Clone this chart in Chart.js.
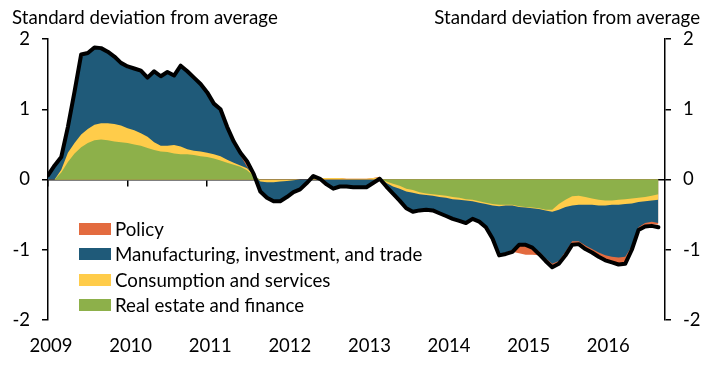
<!DOCTYPE html>
<html>
<head>
<meta charset="utf-8">
<script src="https://cdn.jsdelivr.net/npm/chart.js@4.4.1/dist/chart.umd.min.js"></script>
<style>
  body { margin: 0; background: #fff; }
  #wrap { position: relative; width: 713px; height: 385px; font-family: Lato, "Open Sans", sans-serif; color: #000; }
  #c { position: absolute; left: 0; top: 0; }
  .ttl { position: absolute; top: 8px; font-size: 18.7px; line-height: 19px; white-space: nowrap; }
  #legend { position: absolute; left: 79px; top: 216px; font-size: 18.7px; }
  .item { display: flex; align-items: center; height: 25.5px; white-space: nowrap; }
  .box { width: 32px; height: 12px; margin-right: 4px; }
</style>
</head>
<body>
<div id="wrap">
  <canvas id="c" width="713" height="385"></canvas>
  <div class="ttl" style="left:12px">Standard deviation from average</div>
  <div class="ttl" style="right:13px">Standard deviation from average</div>
  <div id="legend"></div>
</div>
<script>
// monthly, Jan 2009 .. Sep 2016
const startYear = 2009;
const yearTicks = [2009, 2010, 2011, 2012, 2013, 2014, 2015, 2016];

const realEstate = [
  0, 0, 0.10, 0.25, 0.37, 0.46, 0.52, 0.56, 0.57, 0.56, 0.54, 0.53,
  0.52, 0.50, 0.48, 0.45, 0.42, 0.40, 0.39, 0.37, 0.36, 0.36, 0.35, 0.33,
  0.32, 0.30, 0.27, 0.24, 0.21, 0.18, 0.13, 0.05, 0, 0, 0, 0,
  0, 0, 0, 0, 0, 0, 0, 0, 0, 0, 0, 0,
  0, 0, 0, -0.03, -0.06, -0.09, -0.13, -0.15, -0.18, -0.20, -0.21, -0.22,
  -0.23, -0.25, -0.26, -0.28, -0.29, -0.31, -0.33, -0.35, -0.36, -0.36, -0.36, -0.38,
  -0.39, -0.40, -0.41, -0.43, -0.43, -0.35, -0.29, -0.24, -0.23, -0.25, -0.27, -0.29,
  -0.30, -0.30, -0.29, -0.28, -0.27, -0.26, -0.25, -0.23, -0.21
];
const consumption = [
  0, 0, 0.04, 0.13, 0.15, 0.18, 0.20, 0.22, 0.23, 0.24, 0.25, 0.24,
  0.21, 0.20, 0.18, 0.16, 0.11, 0.08, 0.09, 0.12, 0.11, 0.07, 0.06, 0.07,
  0.06, 0.06, 0.06, 0.04, 0.03, 0.02, 0.03, 0.02, -0.03, -0.04, -0.04, -0.03,
  -0.02, -0.01, 0, 0, 0.01, 0.02, 0.02, 0.02, 0.02, 0.01, 0.01, 0.01,
  0.01, 0.02, 0.03, -0.02, -0.04, -0.04, -0.04, -0.04, -0.03, -0.02, -0.02, -0.03,
  -0.03, -0.03, -0.03, -0.02, -0.02, -0.02, -0.02, -0.02, -0.02, -0.01, -0.01, -0.01,
  -0.01, -0.01, -0.01, -0.01, -0.03, -0.08, -0.10, -0.13, -0.13, -0.11, -0.09, -0.08,
  -0.07, -0.06, -0.07, -0.07, -0.07, -0.06, -0.06, -0.07, -0.08
];
const manufacturing = [
  0.06, 0.20, 0.18, 0.37, 0.73, 1.14, 1.08, 1.10, 1.07, 1.02, 0.96, 0.87,
  0.86, 0.86, 0.89, 0.84, 1.01, 0.99, 1.05, 0.99, 1.15, 1.11, 1.04, 0.96,
  0.86, 0.72, 0.67, 0.47, 0.30, 0.14, 0.02, 0.01, -0.14, -0.22, -0.27, -0.28,
  -0.23, -0.17, -0.14, -0.05, 0.04, -0.01, -0.07, -0.13, -0.10, -0.10, -0.11, -0.11,
  -0.11, -0.05, 0.01, -0.05, -0.10, -0.17, -0.24, -0.27, -0.23, -0.21, -0.21, -0.23,
  -0.26, -0.28, -0.30, -0.32, -0.25, -0.27, -0.33, -0.47, -0.68, -0.67, -0.63, -0.54,
  -0.52, -0.54, -0.60, -0.68, -0.74, -0.73, -0.64, -0.51, -0.52, -0.58, -0.63, -0.67,
  -0.71, -0.74, -0.75, -0.75, -0.61, -0.36, -0.31, -0.30, -0.33
];
const policy = [
  0, 0, 0, 0, 0, 0, 0, 0, 0, 0, 0, 0.02,
  0.02, 0.02, 0, 0, 0, 0, 0, 0, 0, 0, 0, 0,
  0, 0, 0, 0, 0, 0.04, 0.08, 0, 0, 0, 0, 0,
  0, 0, 0, 0, 0, 0, 0, 0, 0, 0, 0, 0,
  0, 0, 0, 0, 0, 0, 0, 0, 0, 0, 0, 0,
  0, 0, 0, 0, 0, 0, 0, 0, -0.01, -0.01, -0.03, -0.12,
  -0.15, -0.12, -0.06, -0.03, -0.03, -0.04, -0.04, -0.03, -0.04, -0.04, -0.04, -0.04,
  -0.05, -0.08, -0.09, -0.10, -0.05, -0.02, -0.03, -0.04, -0.02
];
const total = [
  0.06, 0.20, 0.32, 0.75, 1.25, 1.78, 1.80, 1.88, 1.87, 1.82, 1.75, 1.66,
  1.61, 1.58, 1.55, 1.45, 1.54, 1.47, 1.53, 1.48, 1.62, 1.54, 1.45, 1.36,
  1.24, 1.08, 1.00, 0.75, 0.54, 0.38, 0.26, 0.08, -0.17, -0.26, -0.31, -0.31,
  -0.25, -0.18, -0.14, -0.05, 0.05, 0.01, -0.07, -0.13, -0.10, -0.10, -0.11, -0.11,
  -0.11, -0.05, 0.01, -0.10, -0.20, -0.30, -0.41, -0.46, -0.44, -0.43, -0.44, -0.48,
  -0.52, -0.56, -0.59, -0.62, -0.56, -0.60, -0.68, -0.84, -1.08, -1.06, -1.03, -0.93,
  -0.93, -0.97, -1.06, -1.16, -1.25, -1.20, -1.08, -0.93, -0.92, -0.99, -1.04, -1.10,
  -1.15, -1.18, -1.21, -1.20, -1.00, -0.72, -0.67, -0.66, -0.68
];

const areas = [
  { label: 'Real estate and finance', data: realEstate, color: '#8DB04A' },
  { label: 'Consumption and services', data: consumption, color: '#FFCC4A' },
  { label: 'Manufacturing, investment, and trade', data: manufacturing, color: '#1F5A79' },
  { label: 'Policy', data: policy, color: '#E36B3F' }
];

function pts(arr) {
  return arr.map((v, i) => ({ x: i, y: v }));
}

const datasets = [{
  label: 'Total',
  data: pts(total),
  borderColor: '#000',
  borderWidth: 4,
  borderJoinStyle: 'round',
  borderCapStyle: 'round',
  pointRadius: 0,
  fill: false,
  stack: 'total'
}];
areas.forEach(a => {
  datasets.push({
    label: a.label,
    data: pts(a.data),
    backgroundColor: a.color,
    borderColor: a.color,
    borderWidth: 0,
    pointRadius: 0,
    fill: 'origin',
    stack: 'parts'
  });
});

const tickFont = { family: 'Lato', size: 18.5 };
const lastMonth = 93;

const chart = new Chart(document.getElementById('c'), {
  type: 'line',
  data: { datasets: datasets },
  options: {
    responsive: false,
    animation: false,
    layout: { padding: { top: 39, left: 0, right: 0, bottom: 0 } },
    plugins: { legend: { display: false }, tooltip: { enabled: false } },
    elements: { line: { tension: 0 } },
    scales: {
      x: {
        type: 'linear',
        min: 0, max: lastMonth,
        position: { y: 0 },
        ticks: { display: false, stepSize: 12, includeBounds: false },
        grid: { drawOnChartArea: false, tickLength: 6, color: '#000', lineWidth: 1.5 },
        border: { color: '#000', width: 1.5 }
      },
      x2: {
        axis: 'x',
        type: 'linear',
        min: 0, max: lastMonth,
        position: 'bottom',
        grid: { display: false },
        border: { display: false },
        ticks: {
          stepSize: 12, includeBounds: false, maxRotation: 0, autoSkip: false,
          color: '#000', font: tickFont, padding: 7, labelOffset: 3,
          callback: v => yearTicks[v / 12]
        },
        afterFit: s => { s.height = 65; }
      },
      y: {
        position: 'left',
        stacked: true,
        min: -2, max: 2,
        ticks: { stepSize: 1, color: '#000', font: tickFont, padding: 12 },
        grid: { drawOnChartArea: false, tickLength: 6, color: '#000', lineWidth: 1.5 },
        border: { color: '#000', width: 1.5 },
        afterFit: s => { s.width = 48; }
      },
      y2: {
        position: 'right',
        min: -2, max: 2,
        ticks: { stepSize: 1, color: '#000', font: tickFont, padding: 12 },
        grid: { drawOnChartArea: false, tickLength: 6, color: '#000', lineWidth: 1.5 },
        border: { color: '#000', width: 1.5 },
        afterFit: s => { s.width = 48; }
      }
    }
  }
});

// legend (Policy first, as in the original)
const legend = document.getElementById('legend');
areas.slice().reverse().forEach(a => {
  const row = document.createElement('div');
  row.className = 'item';
  const box = document.createElement('span');
  box.className = 'box';
  box.style.background = a.color;
  const txt = document.createElement('span');
  txt.textContent = a.label;
  row.appendChild(box);
  row.appendChild(txt);
  legend.appendChild(row);
});
</script>
</body>
</html>
